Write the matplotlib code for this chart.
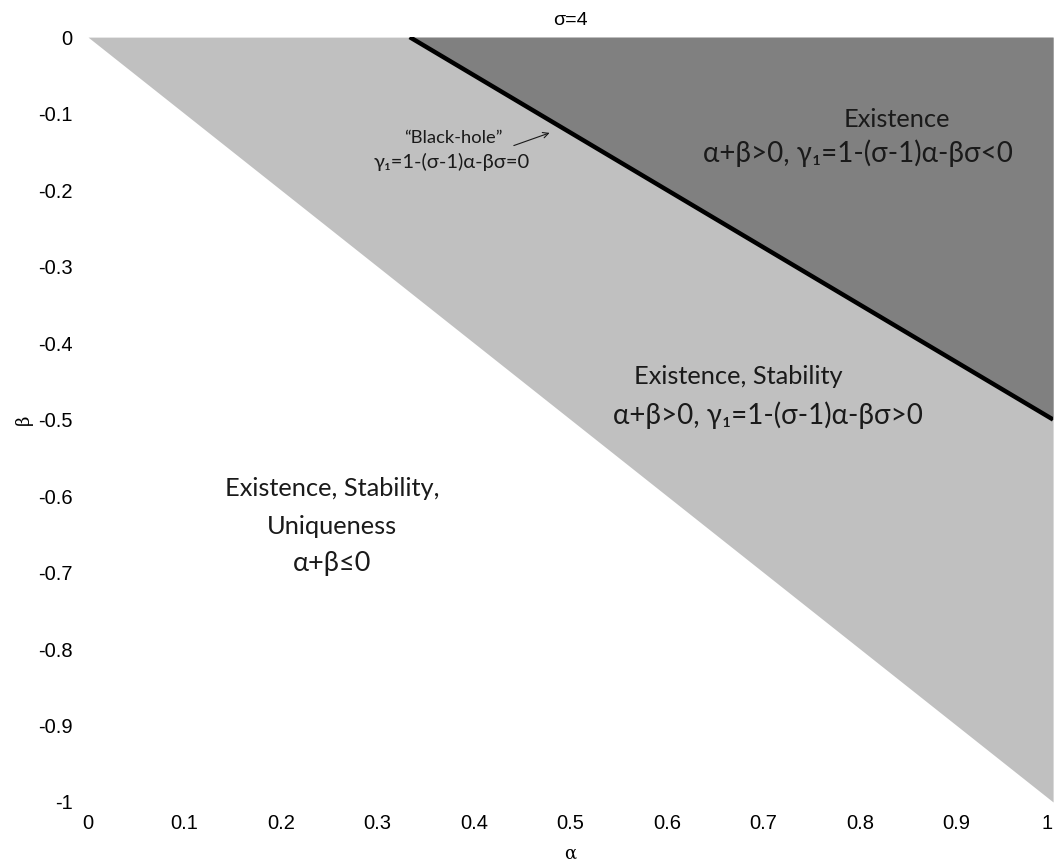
import numpy as np
import matplotlib.pyplot as plt

sigma = 4
alpha = np.array([0.0, 1.0])
alpha_ticks = [0, 0.1, 0.2, 0.3, 0.4, 0.5, 0.6, 0.7, 0.8, 0.9, 1]
beta_ticks = [0, -0.1, -0.2, -0.3, -0.4, -0.5, -0.6, -0.7, -0.8, -0.9, -1]

# black-hole line: 1-(sigma-1)*alpha - beta*sigma = 0
bh_alpha = np.array([1 / (sigma - 1), 1.0])
bh_beta = (1 - (sigma - 1) * bh_alpha) / sigma

text_font = ['Lato', 'DejaVu Sans']
tick_font = 'Liberation Sans'
ink = '#1a1a1a'

fig = plt.figure(figsize=(10.57, 8.63), dpi=100)
ax = fig.add_axes([0.0833, 0.0707, 0.913, 0.8863])

# alpha + beta > 0 region
ax.fill_between(alpha, -alpha, 0, color='#c0c0c0', lw=0)
# gamma_1 < 0 region
ax.fill_between(bh_alpha, bh_beta, 0, color='#808080', lw=0)
ax.plot(bh_alpha, bh_beta, color='black', lw=3.2, solid_capstyle='butt')

def label(x, y, s, size):
    ax.text(x, y, s, ha='center', va='center', fontsize=size,
            family=text_font, color=ink)

label(0.838, -0.108, 'Existence', 18.3)
label(0.798, -0.152, 'α+β>0, γ₁=1-(σ-1)α-βσ<0', 20)

label(0.674, -0.444, 'Existence, Stability', 18.3)
label(0.705, -0.494, 'α+β>0, γ₁=1-(σ-1)α-βσ>0', 20)

label(0.253, -0.590, 'Existence, Stability,', 18.3)
label(0.253, -0.640, 'Uniqueness', 18.3)
label(0.253, -0.688, 'α+β≤0', 19.5)

label(0.379, -0.132, '“Black-hole”', 13.2)
label(0.377, -0.163, 'γ₁=1-(σ-1)α-βσ=0', 14.5)
ax.annotate('', xy=(0.481, -0.124), xytext=(0.4385, -0.143),
            arrowprops=dict(arrowstyle='->', color=ink, lw=0.8))

ax.set_xlim(0, 1)
ax.set_ylim(-1, 0)
ax.set_xticks(alpha_ticks)
ax.set_xticklabels([f'{t:g}' for t in alpha_ticks], family=tick_font, fontsize=14.5)
ax.get_xticklabels()[-1].set_horizontalalignment('right')
ax.set_yticks(beta_ticks)
ax.set_yticklabels([f'{t:g}' for t in beta_ticks], family=tick_font, fontsize=14.5)
ax.tick_params(axis='x', length=0, pad=9)
ax.tick_params(axis='y', length=0, pad=11)
for s in ax.spines.values():
    s.set_visible(False)

ax.set_xlabel('α', family='DejaVu Serif', fontsize=13, labelpad=8)
ax.set_ylabel('β', family='DejaVu Serif', fontsize=13, labelpad=4)
ax.set_title('σ=4', family=tick_font, fontsize=14, pad=9)

fig.savefig('out.png', dpi=100)
